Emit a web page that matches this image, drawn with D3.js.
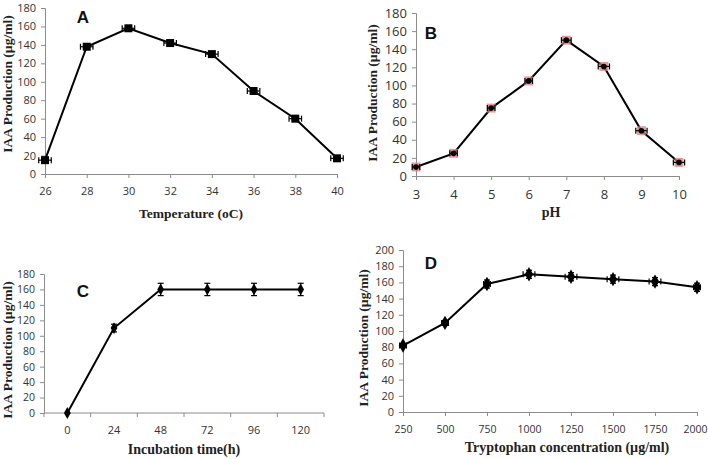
<!DOCTYPE html>
<html>
<head>
<meta charset="utf-8">
<script src="https://cdn.jsdelivr.net/npm/d3@7"></script>
<style>
  body { margin: 0; background: #fff; }
  .tick text { fill: #333; font-family: "Open Sans", "Liberation Sans", sans-serif; }
  .domain, .tick line { stroke: #8c8c8c; }
  .ttl { font-family: "Liberation Serif", "Times New Roman", serif; font-weight: bold; fill: #222; }
  .letter { font-family: "Liberation Sans", Arial, sans-serif; font-weight: bold; fill: #111; }
</style>
</head>
<body>
<svg width="708" height="459"></svg>
<script>
// Panel A - temperature
var tempX = [26, 28, 30, 32, 34, 36, 38, 40];
var tempY = [15, 138, 158, 142, 130, 90, 60, 17];
var tempErrX = [0.3, 0.3, 0.3, 0.3, 0.3, 0.3, 0.3, 0.3];

// Panel B - pH
var phX = [3, 4, 5, 6, 7, 8, 9, 10];
var phY = [10, 25, 75, 105, 150, 121, 50, 15];
var phErrX = [0.1, 0.1, 0.1, 0.1, 0.13, 0.15, 0.15, 0.15];

// Panel C - incubation time (category axis)
var timeCats = ["0", "24", "48", "72", "96", "120"];
var timeY = [0, 110, 160, 160, 160, 160];
var timeErrY = [0, 5, 8, 8, 8, 8];

// Panel D - tryptophan
var tryX = [250, 500, 750, 1000, 1250, 1500, 1750, 2000];
var tryY = [82, 110, 158, 170, 167, 164, 161, 154];
var tryErrY = [2, 3, 5, 5, 5, 5, 5, 5];
var tryErrX = [20, 20, 20, 35, 35, 35, 35, 20];

var svg = d3.select("svg");
var yTitle = "IAA Production (µg/ml)";
var fmt = d3.format("d");

function yAxisPart(g, y, ticks, fs) {
  g.append("g")
    .attr("transform", "translate(" + y.x0 + ",0)")
    .call(d3.axisLeft(y.s).tickValues(ticks).tickFormat(fmt).tickSize(4).tickPadding(5))
    .call(function(a) { a.selectAll("text").style("font-size", fs + "px"); });
}

function line(g, xs, ys) {
  g.append("path")
    .datum(d3.range(xs.length))
    .attr("fill", "none").attr("stroke", "#000").attr("stroke-width", 2)
    .attr("d", d3.line().x(function(i) { return xs[i]; }).y(function(i) { return ys[i]; }));
}

function hErr(g, cx, cy, lo, hi) {
  g.append("line").attr("x1", lo).attr("x2", hi).attr("y1", cy).attr("y2", cy).attr("stroke", "#000").attr("stroke-width", 1.2);
  [lo, hi].forEach(function(v) {
    g.append("line").attr("x1", v).attr("x2", v).attr("y1", cy - 3).attr("y2", cy + 3).attr("stroke", "#000").attr("stroke-width", 1.2);
  });
}

function vErr(g, cx, cy, lo, hi) {
  g.append("line").attr("x1", cx).attr("x2", cx).attr("y1", lo).attr("y2", hi).attr("stroke", "#000").attr("stroke-width", 1.2);
  [lo, hi].forEach(function(v) {
    g.append("line").attr("x1", cx - 3).attr("x2", cx + 3).attr("y1", v).attr("y2", v).attr("stroke", "#000").attr("stroke-width", 1.2);
  });
}

// ---------- A ----------
(function() {
  var g = svg.append("g");
  var x = d3.scaleLinear().domain([26, 40]).range([45, 337]);
  var y = d3.scaleLinear().domain([0, 180]).range([174, 8]);
  yAxisPart(g, {x0: 45, s: y}, d3.range(0, 181, 20), 11);
  g.append("g").attr("transform", "translate(0,174)")
    .call(d3.axisBottom(x).tickValues(d3.range(26, 41, 2)).tickFormat(fmt).tickSize(4).tickPadding(9))
    .call(function(a) { a.selectAll("text").style("font-size", "11px"); });
  var px = tempX.map(x), py = tempY.map(y);
  line(g, px, py);
  tempX.forEach(function(d, i) {
    hErr(g, px[i], py[i], x(d - tempErrX[i]), x(d + tempErrX[i]));
    g.append("rect").attr("x", px[i] - 4).attr("y", py[i] - 4).attr("width", 8).attr("height", 8).attr("fill", "#000");
  });
  g.append("text").attr("class", "ttl").attr("transform", "translate(12,84) rotate(-90)")
    .attr("text-anchor", "middle").style("font-size", "13.5px").text(yTitle);
  g.append("text").attr("class", "ttl").attr("x", 191).attr("y", 218)
    .attr("text-anchor", "middle").style("font-size", "13.5px").text("Temperature (oC)");
  g.append("text").attr("class", "letter").attr("x", 83).attr("y", 23)
    .attr("text-anchor", "middle").style("font-size", "17px").text("A");
})();

// ---------- B ----------
(function() {
  var g = svg.append("g");
  var x = d3.scaleLinear().domain([3, 10]).range([416, 679]);
  var y = d3.scaleLinear().domain([0, 180]).range([176, 13]);
  yAxisPart(g, {x0: 416, s: y}, d3.range(0, 181, 20), 13);
  g.append("g").attr("transform", "translate(0,176)")
    .call(d3.axisBottom(x).tickValues(d3.range(3, 11)).tickFormat(fmt).tickSize(4).tickPadding(10))
    .call(function(a) { a.selectAll("text").style("font-size", "13px"); });
  var px = phX.map(x), py = phY.map(y);
  line(g, px, py);
  phX.forEach(function(d, i) {
    g.append("rect").attr("x", px[i] - 4.5).attr("y", py[i] - 4.5).attr("width", 9).attr("height", 9)
      .attr("fill", "#e07a7a").attr("opacity", 0.75);
    hErr(g, px[i], py[i], x(d - phErrX[i]), x(d + phErrX[i]));
    g.append("circle").attr("cx", px[i]).attr("cy", py[i]).attr("r", 2.8).attr("fill", "#000");
  });
  g.append("text").attr("class", "ttl").attr("transform", "translate(377,93) rotate(-90)")
    .attr("text-anchor", "middle").style("font-size", "13.5px").text(yTitle);
  g.append("text").attr("class", "ttl").attr("x", 551).attr("y", 217)
    .attr("text-anchor", "middle").style("font-size", "14px").text("pH");
  g.append("text").attr("class", "letter").attr("x", 431).attr("y", 39)
    .attr("text-anchor", "middle").style("font-size", "17px").text("B");
})();

// ---------- C ----------
(function() {
  var g = svg.append("g");
  var x = d3.scaleBand().domain(timeCats).range([44, 324]);
  var y = d3.scaleLinear().domain([0, 180]).range([413, 274]);
  yAxisPart(g, {x0: 44, s: y}, d3.range(0, 181, 20), 10.5);
  // category labels at band centres, ticks on band edges
  g.append("g").attr("transform", "translate(0,413)")
    .call(d3.axisBottom(x).tickSize(0).tickPadding(13))
    .call(function(a) { a.select(".domain").remove(); a.selectAll("text").style("font-size", "11px"); });
  var edges = timeCats.map(function(c) { return x(c); }).concat([x.range()[1]]);
  g.append("line").attr("x1", 44).attr("x2", 324).attr("y1", 413).attr("y2", 413).attr("stroke", "#8c8c8c");
  g.selectAll(".edge").data(edges).enter().append("line")
    .attr("x1", function(d) { return d; }).attr("x2", function(d) { return d; })
    .attr("y1", 413).attr("y2", 417).attr("stroke", "#8c8c8c");
  var px = timeCats.map(function(c) { return x(c) + x.bandwidth() / 2; }), py = timeY.map(y);
  line(g, px, py);
  timeCats.forEach(function(c, i) {
    if (timeErrY[i] > 0) vErr(g, px[i], py[i], y(timeY[i] - timeErrY[i]), y(timeY[i] + timeErrY[i]));
    g.append("path").attr("d", d3.symbol(d3.symbolDiamond, 40)()).attr("transform", "translate(" + px[i] + "," + py[i] + ")").attr("fill", "#000");
  });
  g.append("text").attr("class", "ttl").attr("transform", "translate(12,350) rotate(-90)")
    .attr("text-anchor", "middle").style("font-size", "13.5px").text(yTitle);
  g.append("text").attr("class", "ttl").attr("x", 184).attr("y", 454)
    .attr("text-anchor", "middle").style("font-size", "14px").text("Incubation time(h)");
  g.append("text").attr("class", "letter").attr("x", 83).attr("y", 297)
    .attr("text-anchor", "middle").style("font-size", "17px").text("C");
})();

// ---------- D ----------
(function() {
  var g = svg.append("g");
  var x = d3.scaleLinear().domain([250, 2000]).range([403, 697]);
  var y = d3.scaleLinear().domain([0, 200]).range([412, 250]);
  yAxisPart(g, {x0: 403, s: y}, d3.range(0, 201, 20), 11);
  g.append("g").attr("transform", "translate(0,412)")
    .call(d3.axisBottom(x).tickValues(tryX).tickFormat(fmt).tickSize(4).tickPadding(10))
    .call(function(a) {
      a.selectAll("text").style("font-size", "10.5px");
      a.selectAll(".tick:last-of-type text").attr("dx", "-2px");
    });
  var px = tryX.map(x), py = tryY.map(y);
  line(g, px, py);
  tryX.forEach(function(d, i) {
    hErr(g, px[i], py[i], x(d - tryErrX[i]), x(d + tryErrX[i]));
    vErr(g, px[i], py[i], y(tryY[i] - tryErrY[i]), y(tryY[i] + tryErrY[i]));
    g.append("path").attr("d", d3.symbol(d3.symbolDiamond, 60)()).attr("transform", "translate(" + px[i] + "," + py[i] + ")").attr("fill", "#000");
  });
  g.append("text").attr("class", "ttl").attr("transform", "translate(368,338) rotate(-90)")
    .attr("text-anchor", "middle").style("font-size", "13.5px").text(yTitle);
  g.append("text").attr("class", "ttl").attr("x", 567).attr("y", 452)
    .attr("text-anchor", "middle").style("font-size", "14px").text("Tryptophan concentration (µg/ml)");
  g.append("text").attr("class", "letter").attr("x", 431).attr("y", 269)
    .attr("text-anchor", "middle").style("font-size", "17px").text("D");
})();
</script>
</body>
</html>
